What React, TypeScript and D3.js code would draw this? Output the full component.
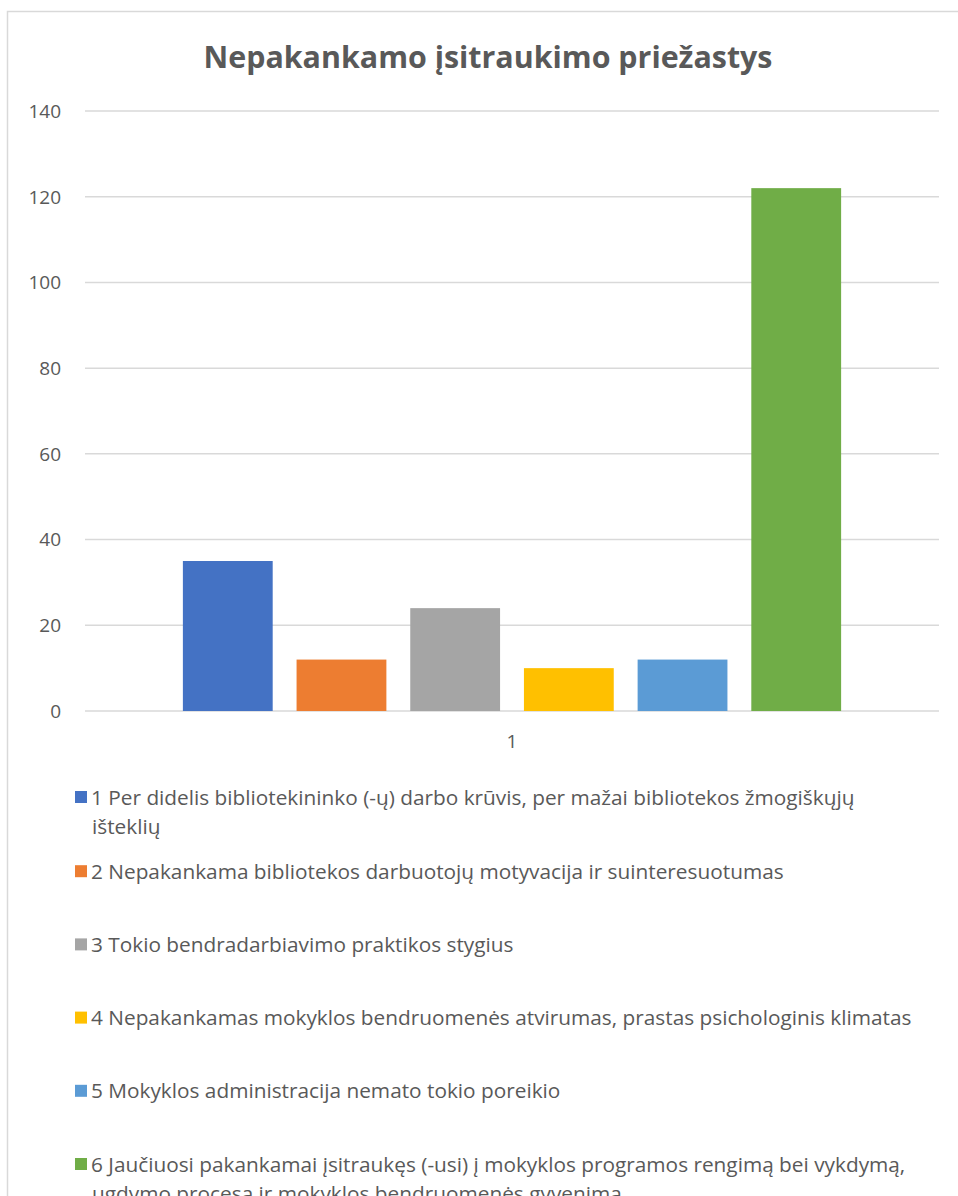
import React, { useEffect, useRef } from 'react';
import * as d3 from 'd3';

// Chart data
const TITLE = 'Nepakankamo įsitraukimo priežastys';
const CATEGORIES = ['1'];
const SERIES_LABELS = [
  '1 Per didelis bibliotekininko (-ų) darbo krūvis, per mažai bibliotekos žmogiškųjų\ništeklių',
  '2 Nepakankama bibliotekos darbuotojų motyvacija ir suinteresuotumas',
  '3 Tokio bendradarbiavimo praktikos stygius',
  '4 Nepakankamas mokyklos bendruomenės atvirumas, prastas psichologinis klimatas',
  '5 Mokyklos administracija nemato tokio poreikio',
  '6 Jaučiuosi pakankamai įsitraukęs (-usi) į mokyklos programos rengimą bei vykdymą,\nugdymo procesą ir mokyklos bendruomenės gyvenimą',
];
const SERIES_VALUES = [35, 12, 24, 10, 12, 122];
const SERIES_COLORS = ['#4472C4', '#ED7D31', '#A5A5A5', '#FFC000', '#5B9BD5', '#70AD47'];
const Y_TICKS = [0, 20, 40, 60, 80, 100, 120, 140];

const WIDTH = 958;
const HEIGHT = 1196;
const FONT = '"Open Sans", Lato, sans-serif';
const TEXT_COLOR = '#595959';
const GRID_COLOR = '#d9d9d9';

const App: React.FC = () => {
  const svgRef = useRef<SVGSVGElement>(null);

  useEffect(() => {
    if (!svgRef.current) return;
    const svg = d3.select(svgRef.current);
    svg.selectAll('*').remove();

    // chart frame (runs off the right and bottom edge)
    svg.append('rect')
      .attr('x', 7.5)
      .attr('y', 11.5)
      .attr('width', 980)
      .attr('height', 1300)
      .attr('fill', '#fff')
      .attr('stroke', GRID_COLOR)
      .attr('stroke-width', 1.5);

    svg.append('text')
      .attr('x', 488)
      .attr('y', 68)
      .attr('text-anchor', 'middle')
      .attr('font-family', FONT)
      .attr('font-weight', 'bold')
      .attr('font-size', 30.4)
      .attr('fill', TEXT_COLOR)
      .text(TITLE);

    const plot = { left: 85, right: 939, top: 111, bottom: 711 };

    const y = d3.scaleLinear()
      .domain([0, 140])
      .range([plot.bottom, plot.top]);

    const x0 = d3.scaleBand<string>()
      .domain(CATEGORIES)
      .range([plot.left, plot.right])
      .paddingOuter(0.1487);

    const x1 = d3.scaleBand<number>()
      .domain(d3.range(SERIES_VALUES.length))
      .range([0, x0.bandwidth()])
      .paddingInner(0.21);

    // gridlines
    svg.append('g')
      .selectAll('line')
      .data(Y_TICKS)
      .join('line')
        .attr('x1', plot.left)
        .attr('x2', plot.right)
        .attr('y1', d => y(d))
        .attr('y2', d => y(d))
        .attr('stroke', GRID_COLOR)
        .attr('stroke-width', 1.5);

    // y tick labels
    svg.append('g')
      .selectAll('text')
      .data(Y_TICKS)
      .join('text')
        .attr('x', 61)
        .attr('y', d => y(d))
        .attr('dy', '0.36em')
        .attr('text-anchor', 'end')
        .attr('font-family', FONT)
        .attr('font-size', 19)
        .attr('fill', TEXT_COLOR)
        .text(d => d);

    // bars
    svg.append('g')
      .selectAll('rect')
      .data(SERIES_VALUES)
      .join('rect')
        .attr('x', (_, i) => (x0('1') ?? 0) + (x1(i) ?? 0))
        .attr('y', d => y(d))
        .attr('width', x1.bandwidth())
        .attr('height', d => y(0) - y(d))
        .attr('fill', (_, i) => SERIES_COLORS[i]);

    // category label
    svg.append('g')
      .selectAll('text')
      .data(CATEGORIES)
      .join('text')
        .attr('x', d => (x0(d) ?? 0) + x0.bandwidth() / 2)
        .attr('y', 748)
        .attr('text-anchor', 'middle')
        .attr('font-family', FONT)
        .attr('font-size', 19)
        .attr('fill', TEXT_COLOR)
        .text(d => d);

    // legend
    const legend = svg.append('g')
      .selectAll('g')
      .data(SERIES_LABELS)
      .join('g')
        .attr('transform', (_, i) => `translate(75,${797 + i * 73.2 + (i === 0 ? 0 : 1)})`);

    legend.append('rect')
      .attr('x', 0)
      .attr('y', -6)
      .attr('width', 12)
      .attr('height', 12)
      .attr('fill', (_, i) => SERIES_COLORS[i]);

    legend.append('text')
      .attr('font-family', FONT)
      .attr('font-size', 20.8)
      .attr('fill', TEXT_COLOR)
      .each(function (d) {
        const t = d3.select(this);
        d.split('\n').forEach((line, j) => {
          t.append('tspan')
            .attr('x', j === 0 ? 16 : 17)
            .attr('y', j * 30)
            .attr('dy', '0.36em')
            .text(line);
        });
      });
  }, []);

  return (
    <svg
      ref={svgRef}
      width={WIDTH}
      height={HEIGHT}
      style={{ display: 'block', position: 'absolute', left: 0, top: 0 }}
    />
  );
};

export default App;
